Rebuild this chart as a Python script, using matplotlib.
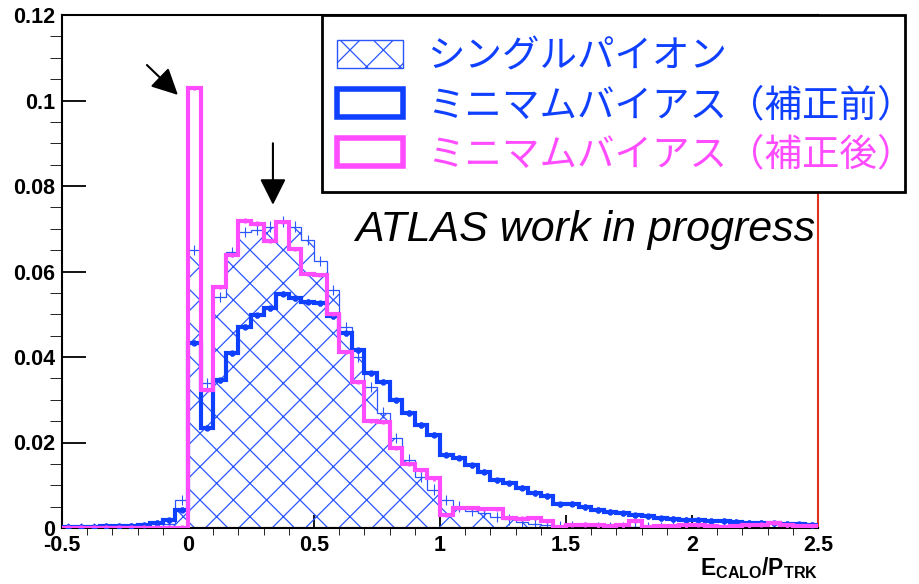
import numpy as np
import matplotlib.pyplot as plt
from matplotlib.patches import Patch, Rectangle
from matplotlib.ticker import MultipleLocator, FuncFormatter

plt.rcParams['font.family'] = ['Liberation Sans', 'Noto Sans CJK JP', 'DejaVu Sans']
plt.rcParams['mathtext.fontset'] = 'custom'
plt.rcParams['mathtext.rm'] = 'Liberation Sans'
plt.rcParams['mathtext.bf'] = 'Liberation Sans:bold'
plt.rcParams['hatch.linewidth'] = 0.9

# E/p histograms, 60 bins of 0.05 between -0.5 and 2.5
x_lo, x_hi, n_bins = -0.5, 2.5, 60

single_pion = [0, 0, 0, 0, 0, 0, 0.0001, 0.0003, 0.001, 0.0066,
               0.065, 0.034, 0.054, 0.0645, 0.0693, 0.0697, 0.0705, 0.0717, 0.0705, 0.0674,
               0.0625, 0.0557, 0.047, 0.040, 0.033, 0.027, 0.021, 0.016, 0.012, 0.009,
               0.0065, 0.005, 0.004, 0.0035, 0.0025, 0.002, 0.0014, 0.001, 0.0007, 0.0005,
               0.0004, 0.0003, 0.0003, 0.0002, 0.0002, 0.0002, 0.0001, 0.0002, 0.0001, 0.0001,
               0.0001, 0.0001, 0.0001, 0.0, 0.0001, 0.0, 0.0001, 0.0, 0.0, 0.0]

minbias_raw = [0.0003, 0.0003, 0.0003, 0.0004, 0.0004, 0.0005, 0.0006, 0.0012, 0.0018, 0.0043,
               0.0433, 0.0235, 0.0346, 0.0409, 0.0471, 0.0498, 0.0514, 0.0548, 0.0537, 0.0529,
               0.0526, 0.0496, 0.0455, 0.0416, 0.0362, 0.0342, 0.0299, 0.0269, 0.0241, 0.0218,
               0.0171, 0.0164, 0.0147, 0.0132, 0.0112, 0.0105, 0.0094, 0.0082, 0.0075, 0.0055,
               0.0057, 0.0049, 0.0042, 0.0038, 0.0034, 0.0030, 0.0027, 0.0023, 0.0021, 0.0019,
               0.0019, 0.0017, 0.0017, 0.0014, 0.0012, 0.0012, 0.0011, 0.0010, 0.0009, 0.0008]

minbias_corr = [0.0001, 0.0001, 0.0001, 0.0001, 0.0001, 0.0001, 0.0001, 0.0001, 0.0001, 0.0001,
                0.103, 0.0323, 0.0563, 0.0639, 0.0719, 0.0712, 0.0672, 0.0716, 0.0652, 0.0595,
                0.0592, 0.0500, 0.0412, 0.0342, 0.0250, 0.0248, 0.0187, 0.0150, 0.0136, 0.0116,
                0.0030, 0.0047, 0.0046, 0.0045, 0.0044, 0.0023, 0.0022, 0.0023, 0.0016, 0.0003,
                0.0007, 0.0008, 0.0006, 0.0005, 0.0006, 0.0017, 0.0003, 0.0004, 0.0005, 0.0006,
                0.0007, 0.0005, 0.0003, 0.0004, 0.0006, 0.0008, 0.0012, 0.0006, 0.0004, 0.0005]

pion_err = 0.0012
raw_err = 0.0006
corr_err = 0.0005

labels = ['シングルパイオン', 'ミニマムバイアス（補正前）', 'ミニマムバイアス（補正後）']

blue = '#1040ff'
hatch_blue = '#2a55ff'
magenta = '#ff4cff'

edges = np.linspace(x_lo, x_hi, n_bins + 1)
centers = 0.5 * (edges[:-1] + edges[1:])

W, H = 920, 584
fig = plt.figure(figsize=(W / 100, H / 100), dpi=100)
ax = fig.add_axes([62 / W, 56 / H, 756 / W, 513 / H])

ax.hlines(0, 0, x_hi, colors='#c8281e', lw=1.5, zorder=1)

ax.stairs(single_pion, edges, fill=True, facecolor='none', edgecolor=hatch_blue,
          hatch='x', lw=0.9, zorder=2)
ax.errorbar(centers, single_pion, yerr=pion_err, fmt='none', ecolor=hatch_blue,
            elinewidth=0.8, zorder=2)

ax.stairs(minbias_raw, edges, color=blue, lw=3, zorder=3)
ax.errorbar(centers, minbias_raw, yerr=raw_err, fmt='o', color=blue, ms=3.5,
            elinewidth=2, zorder=3)

ax.stairs(minbias_corr, edges, color=magenta, lw=3, zorder=4)
ax.errorbar(centers, minbias_corr, yerr=corr_err, fmt='none', ecolor=magenta,
            elinewidth=2, zorder=4)

ax.set_xlim(x_lo, x_hi)
ax.set_ylim(0, 0.12)

fmt = FuncFormatter(lambda v, _: '0' if abs(v) < 1e-9 else f'{v:g}')
ax.xaxis.set_major_locator(MultipleLocator(0.5))
ax.xaxis.set_minor_locator(MultipleLocator(0.1))
ax.yaxis.set_major_locator(MultipleLocator(0.02))
ax.yaxis.set_minor_locator(MultipleLocator(0.005))
ax.xaxis.set_major_formatter(fmt)
ax.yaxis.set_major_formatter(fmt)

ax.tick_params(direction='in', top=False, right=False, width=1.3, labelsize=15.5, pad=5)
ax.tick_params(axis='y', which='major', length=17)
ax.tick_params(axis='y', which='minor', length=9)
ax.tick_params(axis='x', which='major', length=9.5)
ax.tick_params(axis='x', which='minor', length=5)
for lab in ax.get_xticklabels() + ax.get_yticklabels():
    lab.set_fontweight('bold')

for side in ['left', 'bottom', 'top']:
    ax.spines[side].set_linewidth(1.5)
ax.spines['right'].set_color('#e0301e')
ax.spines['right'].set_linewidth(1.5)

ax.text(1.0, -0.092, r'$\mathbf{E_{CALO}/P_{TRK}}$', transform=ax.transAxes,
        ha='right', va='baseline', fontsize=16.5)

ax.text(0.996, 0.581, 'ATLAS work in progress', transform=ax.transAxes,
        ha='right', va='center', fontsize=31, style='italic')

arrow = dict(arrowstyle='-|>,head_length=0.8,head_width=0.4', color='black',
             lw=1.5, mutation_scale=20, shrinkA=0, shrinkB=0)
ax.annotate('', xy=(-0.04, 0.1013), xytext=(-0.163, 0.1083), arrowprops=arrow)
ax.annotate('', xy=(0.337, 0.0756), xytext=(0.337, 0.0900), arrowprops=arrow)

# legend frame sticks out past the right edge of the axes
box = Rectangle((322 / W, 1 - 192 / H), 583 / W, 177 / H, transform=fig.transFigure,
                facecolor='white', edgecolor='black', lw=2, clip_on=False, zorder=5)
ax.add_patch(box)

handles = [Patch(facecolor='none', edgecolor=hatch_blue, hatch='x', lw=1),
           Patch(facecolor='none', edgecolor=blue, lw=4),
           Patch(facecolor='none', edgecolor=magenta, lw=4)]
leg = ax.legend(handles, labels, loc='upper left',
                bbox_to_anchor=(337 / W, 1 - 37 / H), bbox_transform=fig.transFigure,
                prop={'family': 'Noto Sans CJK JP', 'size': 27},
                frameon=False, borderpad=0, labelspacing=0.27, handlelength=1.75,
                handleheight=0.78, handletextpad=0.65, borderaxespad=0)
leg.set_zorder(6)
for t, c in zip(leg.get_texts(), [blue, blue, magenta]):
    t.set_color(c)

fig.savefig('out.png', dpi=100)
